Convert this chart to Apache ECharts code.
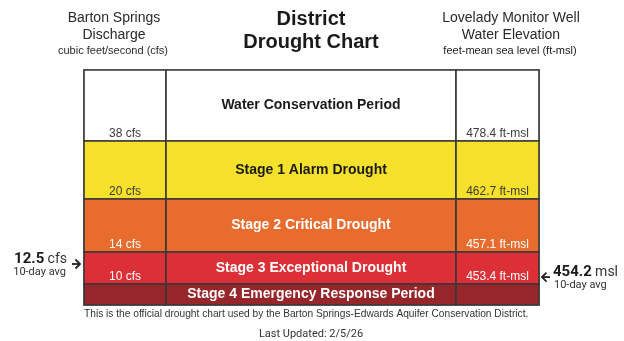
<!DOCTYPE html>
<html><head><meta charset="utf-8">
<script src="https://cdn.jsdelivr.net/npm/echarts@6/dist/echarts.min.js"></script>
<style>html,body{margin:0;padding:0;background:#fff}#c{width:624px;height:341px}</style>
</head><body><div id="c"></div>
<script>
// ---- data ----
const stages = ['Water Conservation Period', 'Stage 1 Alarm Drought', 'Stage 2 Critical Drought', 'Stage 3 Exceptional Drought', 'Stage 4 Emergency Response Period'];
const stageColors = ['#ffffff', '#f5e12b', '#e96c2f', '#dc3036', '#96262a'];
const stageTextColors = ['#1a1a1a', '#1a1a1a', '#ffffff', '#ffffff', '#ffffff'];
const thresholdTextColors = ['#3a3a3a', '#3a3a3a', '#ffffff', '#ffffff', '#ffffff'];
const rowSpans = [71, 58, 53, 32, 21];
const columnSpans = [82, 290, 83];
const cfsLabels = ['38 cfs', '20 cfs', '14 cfs', '10 cfs', ''];
const mslLabels = ['478.4 ft-msl', '462.7 ft-msl', '457.1 ft-msl', '453.4 ft-msl', ''];
const cfsThresholds = [38, 20, 14, 10];
const mslThresholds = [478.4, 462.7, 457.1, 453.4];
const cfsCurrent = 12.5;
const mslCurrent = 454.2;
const leftHeader = ['Barton Springs', 'Discharge', 'cubic feet/second (cfs)'];
const rightHeader = ['Lovelady Monitor Well', 'Water Elevation', 'feet-mean sea level (ft-msl)'];
const titleLines = ['District', 'Drought Chart'];
const footNote = 'This is the official drought chart used by the Barton Springs-Edwards Aquifer Conservation District.';
const updated = 'Last Updated: 2/5/26';

// ---- helpers ----
function cum(arr, n) { let s = 0; for (let i = 0; i < n; i++) s += arr[i]; return s; }
const totalW = cum(columnSpans, columnSpans.length);
const totalH = cum(rowSpans, rowSpans.length);
function levelToRowUnits(v, th) {
  for (let i = 0; i < th.length - 1; i++) {
    if (v <= th[i] && v >= th[i + 1]) {
      return cum(rowSpans, i + 1) + (th[i] - v) / (th[i] - th[i + 1]) * rowSpans[i + 1];
    }
  }
  return totalH;
}

const cells = [];
for (let r = 0; r < stages.length; r++) for (let c = 0; c < columnSpans.length; c++) cells.push([c, r]);

const ARIAL = '"Liberation Sans", Arial, sans-serif';
const GEO = 'Roboto, "Open Sans", sans-serif';

function txt(o) {
  o.align = o.textAlign; o.verticalAlign = o.textVerticalAlign;
  return o;
}

function renderCell(params, api) {
  const c = api.value(0), r = api.value(1);
  const p0 = api.coord([cum(columnSpans, c), cum(rowSpans, r)]);
  const p1 = api.coord([cum(columnSpans, c + 1), cum(rowSpans, r + 1)]);
  const x = p0[0], y = p0[1], w = p1[0] - p0[0], h = p1[1] - p0[1];
  const children = [{
    type: 'rect', shape: { x: x, y: y, width: w, height: h },
    style: { fill: stageColors[r], stroke: '#383838', lineWidth: 1.6 }
  }];
  if (c === 1) {
    children.push({ type: 'text', style: txt({
      text: stages[r], x: x + w / 2, y: y + h / 2,
      textAlign: 'center', textVerticalAlign: 'middle',
      font: 'bold 14px ' + ARIAL, fill: stageTextColors[r]
    }) });
  } else {
    const lab = c === 0 ? cfsLabels[r] : mslLabels[r];
    if (lab) children.push({ type: 'text', style: txt({
      text: lab, x: x + w / 2, y: y + h - 7,
      textAlign: 'center', textVerticalAlign: 'middle',
      font: '12px ' + ARIAL, fill: thresholdTextColors[r]
    }) });
  }
  return { type: 'group', children: children };
}

function renderMarker(params, api) {
  const side = api.value(0);
  const val = api.value(1);
  const yu = side === 0 ? levelToRowUnits(val, cfsThresholds) : levelToRowUnits(val, mslThresholds);
  const edgeX = side === 0 ? 0 : totalW;
  const p = api.coord([edgeX, yu]);
  const col = '#222';
  const ch = [];
  if (side === 0) {
    const ax1 = p[0] - 4, ax0 = ax1 - 8, y = p[1];
    ch.push({ type: 'polyline', shape: { points: [[ax0, y], [ax1, y]] }, style: { stroke: col, lineWidth: 1.8, fill: null } });
    ch.push({ type: 'polyline', shape: { points: [[ax1 - 4.5, y - 4.5], [ax1, y], [ax1 - 4.5, y + 4.5]] }, style: { stroke: col, lineWidth: 1.8, fill: null } });
    ch.push({ type: 'text', style: txt({
      text: '{b|' + cfsCurrent + '} {n|cfs}', x: ax0 - 5, y: y - 5,
      textAlign: 'right', textVerticalAlign: 'middle',
      rich: { b: { font: 'bold 15px ' + GEO, fill: '#1a1a1a', color: '#1a1a1a' }, n: { font: '14px ' + GEO, fill: '#333', color: '#333' } }
    }) });
    ch.push({ type: 'text', style: txt({
      text: '10-day avg', x: ax0 - 6, y: y + 8,
      textAlign: 'right', textVerticalAlign: 'middle',
      font: '11px ' + GEO, fill: '#333'
    }) });
  } else {
    const ax0 = p[0] + 3, ax1 = ax0 + 8, y = p[1];
    ch.push({ type: 'polyline', shape: { points: [[ax0, y], [ax1, y]] }, style: { stroke: col, lineWidth: 1.8, fill: null } });
    ch.push({ type: 'polyline', shape: { points: [[ax0 + 4.5, y - 4.5], [ax0, y], [ax0 + 4.5, y + 4.5]] }, style: { stroke: col, lineWidth: 1.8, fill: null } });
    ch.push({ type: 'text', style: txt({
      text: '{b|' + mslCurrent + '} {n|msl}', x: ax1 + 3, y: y - 5,
      textAlign: 'left', textVerticalAlign: 'middle',
      rich: { b: { font: 'bold 15px ' + GEO, fill: '#1a1a1a', color: '#1a1a1a' }, n: { font: '14px ' + GEO, fill: '#333', color: '#333' } }
    }) });
    ch.push({ type: 'text', style: txt({
      text: '10-day avg', x: ax1 + 4, y: y + 8,
      textAlign: 'left', textVerticalAlign: 'middle',
      font: '11px ' + GEO, fill: '#333'
    }) });
  }
  return { type: 'group', children: ch };
}

function gText(text, x, y, font, align, fill) {
  return { type: 'text', x: 0, y: 0, silent: true, style: txt({
    text: text, x: x, y: y, font: font, fill: fill || '#222',
    textAlign: align || 'center', textVerticalAlign: 'middle'
  }) };
}

const chart = echarts.init(document.getElementById('c'), null, { renderer: 'canvas' });
chart.setOption({
  animation: false,
  backgroundColor: '#ffffff',
  grid: { left: 84, right: 85, top: 70, bottom: 36, show: true, borderColor: '#777', borderWidth: 1.5, backgroundColor: 'transparent' },
  xAxis: { type: 'value', min: 0, max: totalW, show: false },
  yAxis: { type: 'value', min: 0, max: totalH, inverse: true, show: false },
  series: [
    { type: 'custom', renderItem: renderCell, data: cells, clip: false, encode: { x: 0, y: 1 } },
    { type: 'custom', renderItem: renderMarker, data: [[0, cfsCurrent], [1, mslCurrent]], clip: false, encode: { x: -1, y: -1 } }
  ],
  graphic: [
    gText(leftHeader[0], 114, 18, '14px ' + ARIAL, 'center', '#2a2a2a'),
    gText(leftHeader[1], 114, 35, '14px ' + ARIAL, 'center', '#2a2a2a'),
    gText(leftHeader[2], 113, 51, '11px ' + ARIAL, 'center', '#2a2a2a'),
    gText(titleLines[0], 311, 19, 'bold 20px ' + ARIAL, 'center', '#1a1a1a'),
    gText(titleLines[1], 311, 42, 'bold 20px ' + ARIAL, 'center', '#1a1a1a'),
    gText(rightHeader[0], 511, 18, '14px ' + ARIAL, 'center', '#2a2a2a'),
    gText(rightHeader[1], 511, 35, '14px ' + ARIAL, 'center', '#2a2a2a'),
    gText(rightHeader[2], 510, 51, '11px ' + ARIAL, 'center', '#1a1a1a'),
    gText(footNote, 84, 314, '10.2px ' + ARIAL, 'left', '#333'),
    gText(updated, 311, 334, '11px ' + GEO, 'center', '#333')
  ]
});
</script>
</body></html>
